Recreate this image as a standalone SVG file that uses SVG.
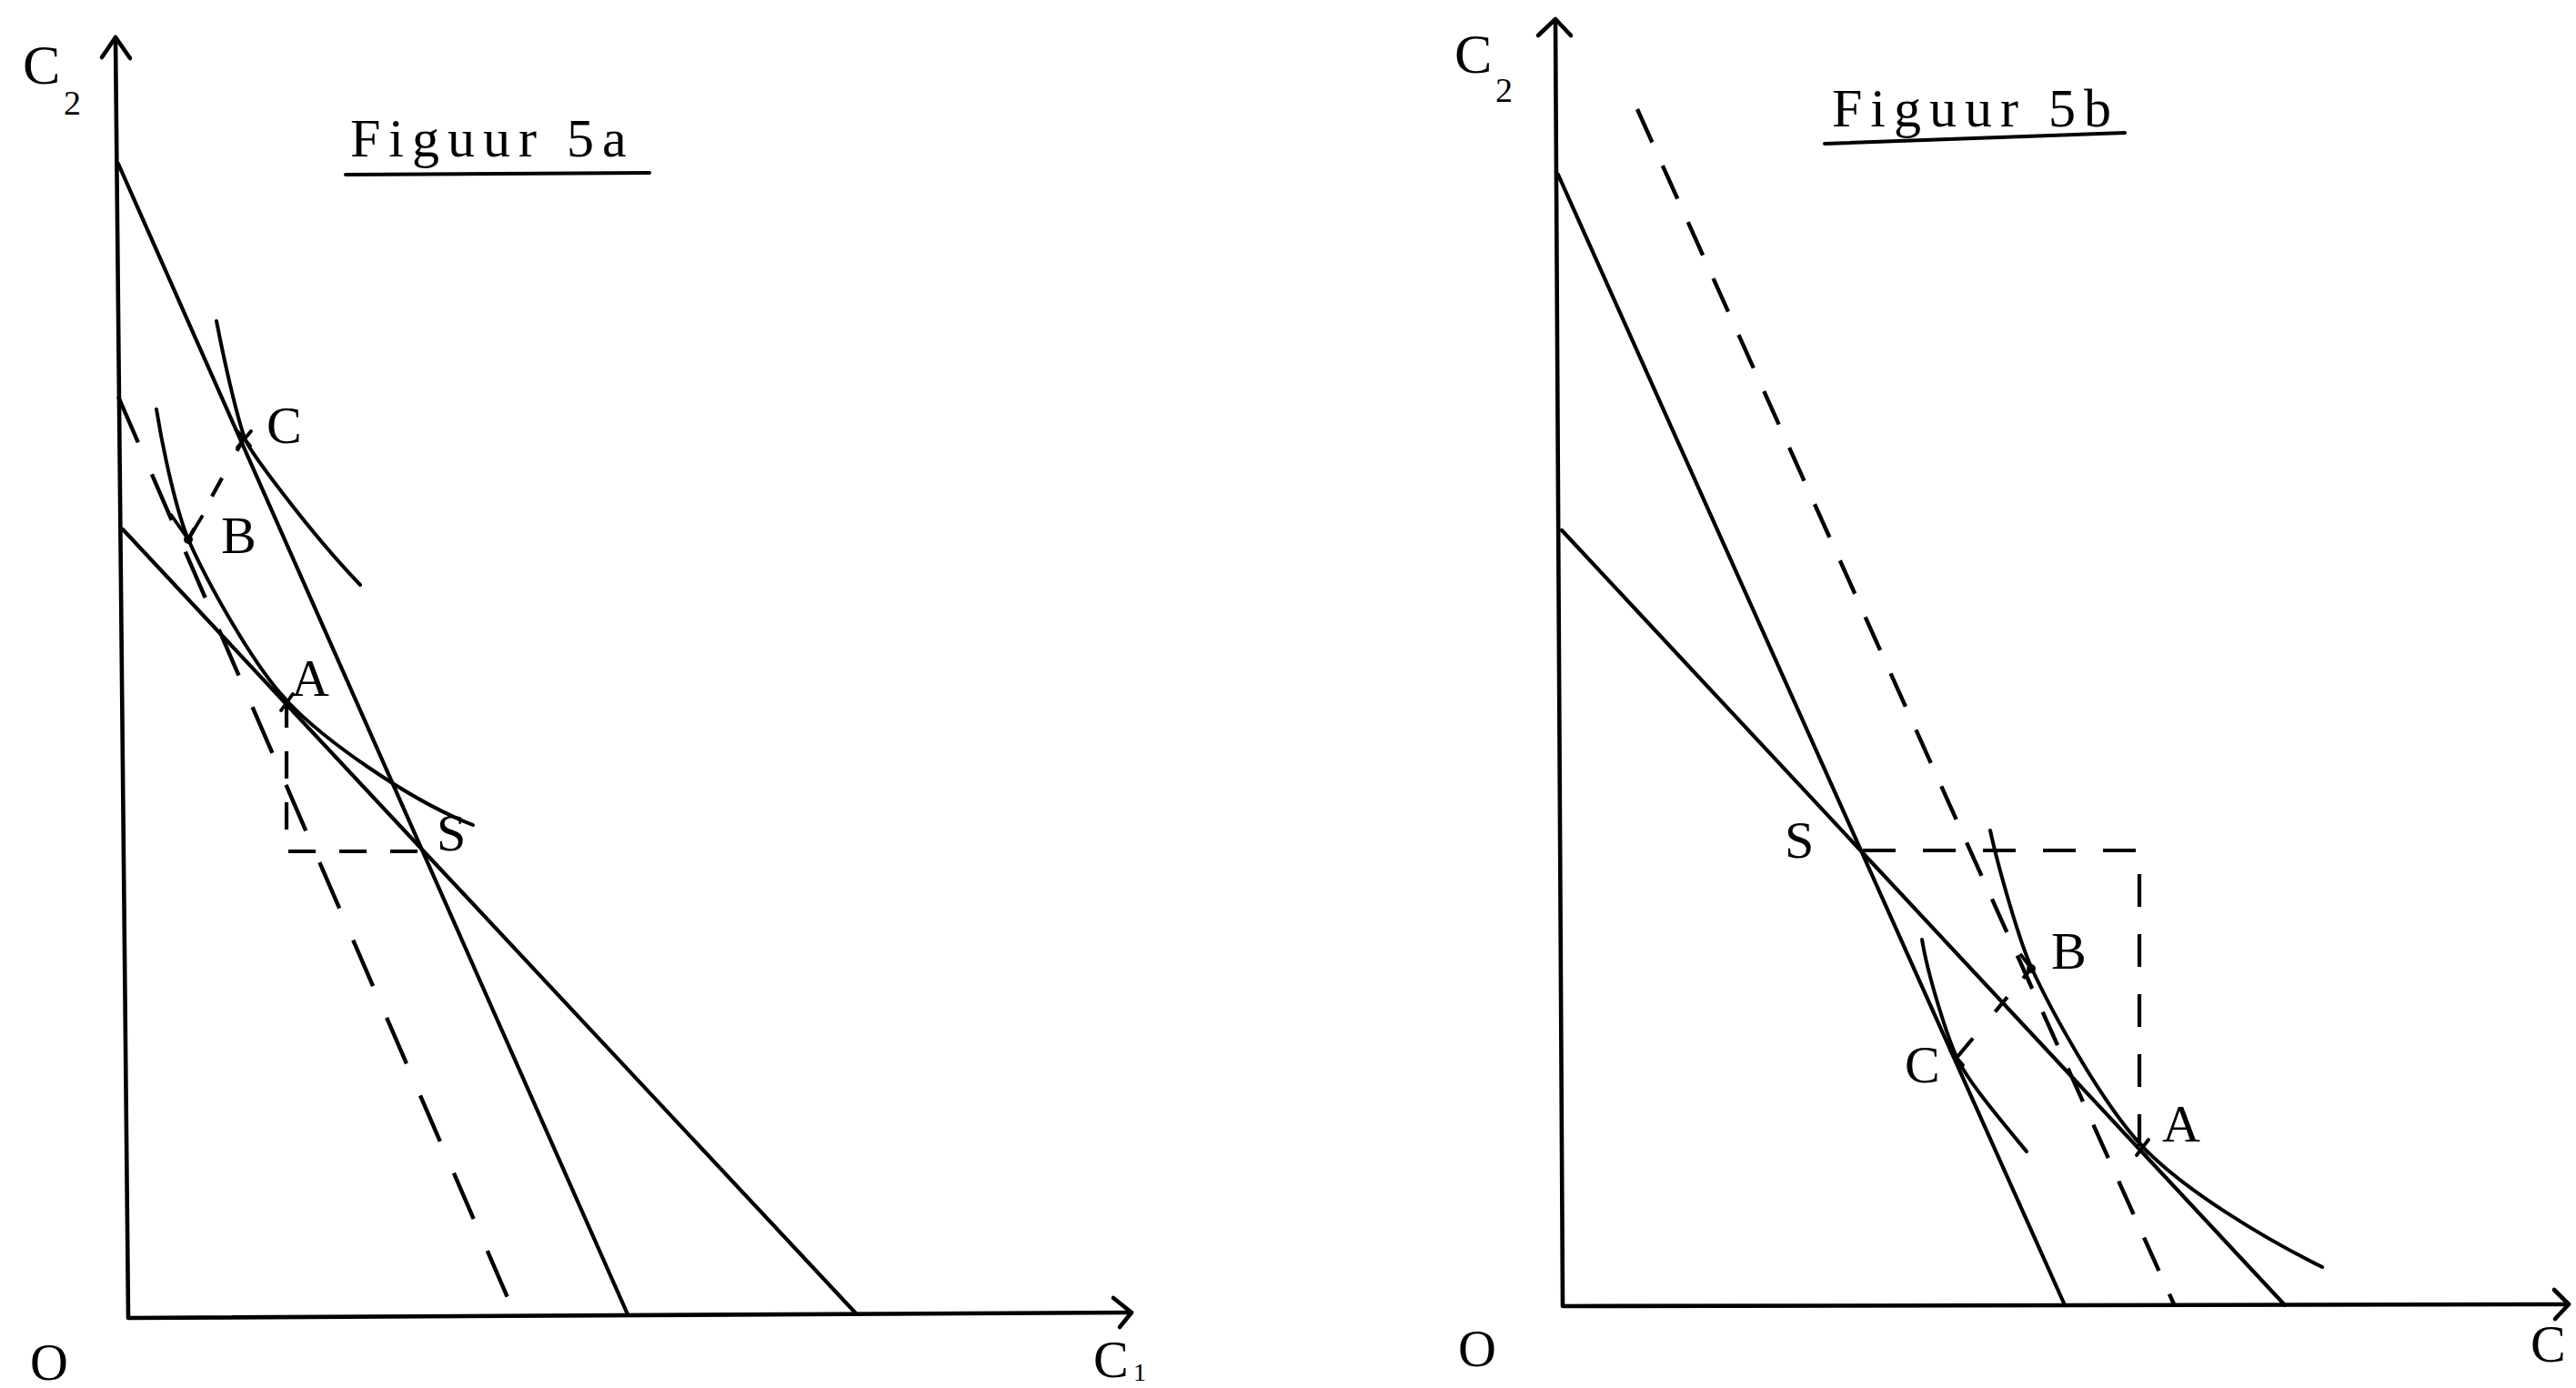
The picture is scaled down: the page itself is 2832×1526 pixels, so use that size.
<svg xmlns="http://www.w3.org/2000/svg" width="2832" height="1526" viewBox="0 0 2832 1526">
<style>
.ax{fill:none;stroke:#000;stroke-width:4.6;stroke-linecap:round;stroke-linejoin:round}
.ln{fill:none;stroke:#000;stroke-width:4.2;stroke-linecap:round}
.cv{fill:none;stroke:#000;stroke-width:4;stroke-linecap:round}
.ds{fill:none;stroke:#000;stroke-width:4.4;stroke-dasharray:55 38}
.dl{fill:none;stroke:#000;stroke-width:4.2;stroke-dasharray:30 26}
.mk{fill:none;stroke:#000;stroke-width:3.8;stroke-linecap:round}
.lbl{font-family:"Liberation Serif","Times New Roman",serif;font-size:58px;fill:#000}
.sub{font-size:38px}
.ttl{font-family:"Liberation Serif","Times New Roman",serif;font-size:60px;letter-spacing:9px;fill:#000}
</style>
<rect width="2832" height="1526" fill="#fff"/>

<g id="figuur-5a">
  <g id="axes-5a">
    <path class="ax" d="M127,42 L141,1449 L1244,1443"/>
    <polyline class="ax" points="112,63 127,41 143,64"/>
    <polyline class="ax" points="1224,1427 1244,1443 1231,1459"/>
  </g>
  <g id="lines-5a">
    <line class="ln" x1="130" y1="180" x2="690" y2="1445"/>
    <line class="ln" x1="135" y1="582" x2="941" y2="1444"/>
    <line class="ds" x1="130" y1="436" x2="566" y2="1445"/>
    <path class="dl" d="M315,770 V936 H463"/>
    <line class="dl" x1="207" y1="593" x2="268" y2="482" style="stroke-dasharray:14 40 23 34 16"/>
  </g>
  <g id="curves-5a">
    <path class="cv" d="M238,353 C250,415 264,470 270,484 C276,497.5 340,585 396,643"/>
    <path class="cv" d="M172,450 C180,500 195,565 207,593 C225,634 275,727 315,770 C355,813 450,880 520,907"/>
  </g>
  <g id="points-5a">
    <path class="mk" d="M261,474 L275,490 M276,474 L261,492"/>
    <path class="mk" d="M188,566 L207,593 L222,568"/>
    <circle cx="207" cy="593" r="5"/>
    <path class="mk" d="M308,762 L322,778 M322,763 L309,781"/>
  </g>
  <g id="labels-5a">
    <text class="lbl" x="25" y="92" style="font-size:62px">C</text>
    <text class="lbl sub" x="70" y="126">2</text>
    <text class="ttl" x="385" y="172">Figuur 5a</text>
    <line class="ax" x1="380" y1="192" x2="714" y2="190" style="stroke-width:4"/>
    <text class="lbl" x="293" y="487">C</text>
    <text class="lbl" x="243" y="608">B</text>
    <text class="lbl" x="320" y="765">A</text>
    <text class="lbl" x="480" y="935">S</text>
    <text class="lbl" x="33" y="1517">O</text>
    <text class="lbl" x="1202" y="1514">C</text>
    <text class="lbl" x="1246" y="1518" style="font-size:28px">1</text>
  </g>
</g>

<g id="figuur-5b">
  <g id="axes-5b">
    <path class="ax" d="M1710,22 L1718,1436 L2824,1434"/>
    <polyline class="ax" points="1691,39 1710,21 1727,39"/>
    <polyline class="ax" points="2808,1418 2824,1434 2809,1450"/>
  </g>
  <g id="lines-5b">
    <line class="ln" x1="1713" y1="192" x2="2270" y2="1435"/>
    <line class="ln" x1="1717" y1="583" x2="2512" y2="1435"/>
    <line class="ds" x1="1800" y1="120" x2="2390" y2="1434" style="stroke-dasharray:40 28"/>
    <path class="dl" d="M2048,935 H2352 V1260" style="stroke-dasharray:36 30"/>
    <line class="dl" x1="2151" y1="1163" x2="2233" y2="1065" style="stroke-dasharray:28 38 21 27 14"/>
  </g>
  <g id="curves-5b">
    <path class="cv" d="M2113,1033 C2119,1070 2139,1135 2151,1162 C2163,1188.6 2200,1232 2228,1266"/>
    <path class="cv" d="M2188,913 C2196,950 2219,1032 2233,1063 C2253,1107.5 2310,1212 2355,1260 C2400,1308 2490,1362 2553,1393"/>
  </g>
  <g id="points-5b">
    <path class="mk" d="M2144,1155 L2158,1171"/>
    <circle cx="2233" cy="1065" r="5"/>
    <path class="mk" d="M2222,1050 L2233,1065"/>
    <path class="mk" d="M2348,1252 L2362,1268 M2362,1253 L2349,1270"/>
  </g>
  <g id="labels-5b">
    <text class="lbl" x="1599" y="80" style="font-size:62px">C</text>
    <text class="lbl sub" x="1644" y="112">2</text>
    <text class="ttl" x="2014" y="139">Figuur 5b</text>
    <line class="ax" x1="2006" y1="158" x2="2336" y2="146" style="stroke-width:4"/>
    <text class="lbl" x="1962" y="943">S</text>
    <text class="lbl" x="2255" y="1065">B</text>
    <text class="lbl" x="2094" y="1190">C</text>
    <text class="lbl" x="2377" y="1255">A</text>
    <text class="lbl" x="1603" y="1502">O</text>
    <text class="lbl" x="2782" y="1497">C</text>
  </g>
</g>
</svg>
